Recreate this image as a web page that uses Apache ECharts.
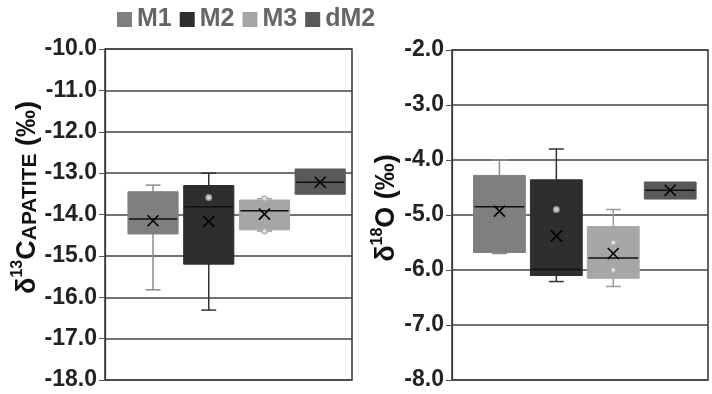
<!DOCTYPE html>
<html><head><meta charset="utf-8">
<script src="https://cdn.jsdelivr.net/npm/echarts@6/dist/echarts.min.js"></script>
<style>html,body{margin:0;padding:0;background:#fff}#c{width:712px;height:394px}</style>
</head><body><div id="c"></div>
<script>
const categories = ['M1', 'M2', 'M3', 'dM2'];
const colors = ['#7f7f7f', '#2e2e2e', '#a6a6a6', '#595959'];
const whiskerColors = ['#8a8a8a', '#333333', '#9a9a9a', '#595959'];

// δ13C apatite
const c13Min    = [-15.82, -16.31, -14.40, -13.51];
const c13Q1     = [-14.47, -15.20, -14.37, -13.51];
const c13Median = [-14.11, -13.81, -13.91, -13.22];
const c13Q3     = [-13.45, -13.30, -13.65, -12.90];
const c13Max    = [-13.29, -13.00, -13.62, -12.90];
const c13Mean   = [-14.15, -14.17, -13.99, -13.22];
const c13PointCat = [1, 2, 2];
const c13PointVal = [-13.59, -13.62, -14.40];
const c13Ticks = [-18, -17, -16, -15, -14, -13, -12, -11, -10];

// δ18O
const o18Min    = [-5.70, -6.21, -6.30, -4.71];
const o18Q1     = [-5.68, -6.10, -6.15, -4.71];
const o18Median = [-4.85, -5.99, -5.78, -4.55];
const o18Q3     = [-4.28, -4.36, -5.21, -4.40];
const o18Max    = [-4.00, -3.80, -4.90, -4.40];
const o18Mean   = [-4.93, -5.38, -5.70, -4.55];
const o18PointCat = [1, 2, 2];
const o18PointVal = [-4.90, -5.50, -6.00];
const o18Ticks = [-8, -7, -6, -5, -4, -3, -2];

const chart = echarts.init(document.getElementById('c'), null, {renderer: 'canvas'});

function makeRender(boxW, capW) {
  return function (params, api) {
    const x = api.value(0);
    const mn = api.value(1), q1 = api.value(2), md = api.value(3), q3 = api.value(4), mx = api.value(5), mean = api.value(6);
    const w = api.size([boxW, 0])[0];
    const ci = api.value(7);
    const pMin = api.coord([x, mn]), pQ1 = api.coord([x, q1]), pMd = api.coord([x, md]);
    const pQ3 = api.coord([x, q3]), pMax = api.coord([x, mx]), pMean = api.coord([x, mean]);
    const cx = pMd[0];
    const wc = whiskerColors[ci];
    const children = [];
    if (mx > q3 || mn < q1) {
      children.push({type: 'line', shape: {x1: cx, y1: pMax[1], x2: cx, y2: pMin[1]}, style: {stroke: wc, lineWidth: 1.5}});
      children.push({type: 'line', shape: {x1: cx - capW / 2, y1: pMax[1], x2: cx + capW / 2, y2: pMax[1]}, style: {stroke: wc, lineWidth: 1.5}});
      children.push({type: 'line', shape: {x1: cx - capW / 2, y1: pMin[1], x2: cx + capW / 2, y2: pMin[1]}, style: {stroke: wc, lineWidth: 1.5}});
    }
    children.push({type: 'rect', shape: {x: cx - w / 2, y: pQ3[1], width: w, height: pQ1[1] - pQ3[1]},
      style: {fill: colors[ci], stroke: colors[ci], lineWidth: 1}});
    children.push({type: 'line', shape: {x1: cx - w / 2 + 1, y1: pMd[1], x2: cx + w / 2 - 1, y2: pMd[1]}, style: {stroke: '#111', lineWidth: 1.5}});
    const s = 5.5;
    children.push({type: 'line', shape: {x1: cx - s, y1: pMean[1] - s, x2: cx + s, y2: pMean[1] + s}, style: {stroke: '#000', lineWidth: 1.6}});
    children.push({type: 'line', shape: {x1: cx - s, y1: pMean[1] + s, x2: cx + s, y2: pMean[1] - s}, style: {stroke: '#000', lineWidth: 1.6}});
    return {type: 'group', children: children};
  };
}

const series = [];
function addPanel(gi, mn, q1, md, q3, mx, mean, pc, pv, boxW) {
  categories.forEach(function (name, i) {
    series.push({
      type: 'custom', name: name, xAxisIndex: gi, yAxisIndex: gi,
      itemStyle: {color: colors[i]},
      renderItem: makeRender(boxW, 15),
      encode: {x: 0, y: [1, 2, 3, 4, 5, 6]},
      data: [[i, mn[i], q1[i], md[i], q3[i], mx[i], mean[i], i]],
      z: 3
    });
  });
  series.push({
    type: 'scatter', name: 'pts' + gi, xAxisIndex: gi, yAxisIndex: gi,
    symbol: 'emptyCircle', symbolSize: 5,
    itemStyle: {color: '#aaa', borderColor: '#a0a0a0', borderWidth: 1, opacity: 0.8},
    data: pc.map(function (c, k) { return [c, pv[k]]; }),
    z: 4, silent: true
  });
}
addPanel(0, c13Min, c13Q1, c13Median, c13Q3, c13Max, c13Mean, c13PointCat, c13PointVal, 0.9);
addPanel(1, o18Min, o18Q1, o18Median, o18Q3, o18Max, o18Mean, o18PointCat, o18PointVal, 0.91);

const FF = 'Liberation Sans, Arial, sans-serif';
const labelStyle = {fontFamily: FF, fontWeight: 'bold', fontSize: 23, color: '#222'};
const richBase = {fontFamily: FF, fontWeight: 'bold', color: '#111'};
const rich = {
  a: Object.assign({fontSize: 27, lineHeight: 31, verticalAlign: 'bottom'}, richBase),
  s: Object.assign({fontSize: 16, lineHeight: 31, verticalAlign: 'top'}, richBase),
  b: Object.assign({fontSize: 21, lineHeight: 31, verticalAlign: 'bottom', padding: [8, 0, 0, 0]}, richBase)
};
function yAxis(gi, ticks, name, nameGap, pad) {
  return {
    type: 'value', gridIndex: gi, min: ticks[0], max: ticks[ticks.length - 1], interval: 1,
    axisLine: {show: true, onZero: false, lineStyle: {color: '#333', width: 1.2}},
    axisTick: {show: true, length: 6, lineStyle: {color: '#555'}},
    axisLabel: Object.assign({formatter: function (v) { return v.toFixed(1); }, margin: 8}, labelStyle),
    splitLine: {show: true, lineStyle: {color: '#444', width: 1.6}},
    name: name, nameLocation: 'middle', nameRotate: 90, nameGap: nameGap,
    nameTextStyle: {fontFamily: FF, fontWeight: 'bold', fontSize: 27, color: '#111', rich: rich, padding: pad}
  };
}

chart.setOption({
  animation: false,
  legend: {
    data: categories, left: 112, top: 2, itemWidth: 15, itemHeight: 15, itemGap: 8, icon: 'rect',
    textStyle: {fontFamily: FF, fontWeight: 'bold', fontSize: 25, color: '#666'}
  },
  grid: [
    {left: 105, top: 49, right: 360, bottom: 14, show: true, borderColor: '#333', borderWidth: 1.5},
    {left: 452, top: 50, right: 4, bottom: 14, show: true, borderColor: '#333', borderWidth: 1.5}
  ],
  xAxis: [
    {type: 'value', gridIndex: 0, min: -0.862, max: 3.571, show: false},
    {type: 'value', gridIndex: 1, min: -0.833, max: 3.664, show: false}
  ],
  yAxis: [
    yAxis(0, c13Ticks, '{a|δ}{s|13}{a|C}{b|APATITE}{a| (‰)}', 62, [0, 0, 0, 34]),
    yAxis(1, o18Ticks, '{a|δ}{s|18}{a|O (‰)}', 48, [0, 0, 0, 14])
  ],
  series: series
});
</script>
</body></html>
